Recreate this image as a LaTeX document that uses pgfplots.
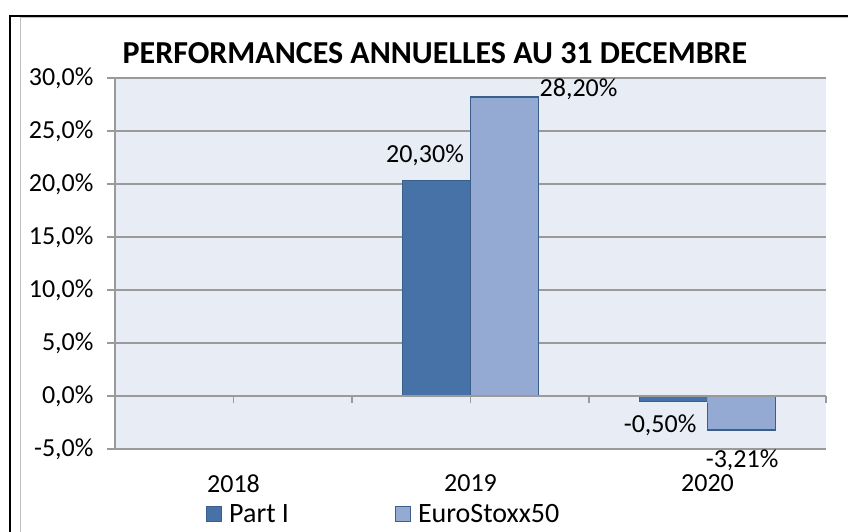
\documentclass[border=0pt]{standalone}
\usepackage{pgfplots}
\pgfplotsset{compat=1.18}
\usepackage{fontspec}
\setmainfont{Carlito}
\definecolor{partI}{HTML}{4672A8}
\definecolor{euro}{HTML}{95AAD3}
\definecolor{edge}{HTML}{3B5F8C}
\definecolor{plotbg}{HTML}{E8ECF4}
\definecolor{gridc}{HTML}{9A9A9A}
\newcommand{\fs}{\fontsize{26}{30}\selectfont}
\begin{document}
\begin{tikzpicture}
\useasboundingbox (0pt,0pt) rectangle (848pt,532pt);
\draw[gray!50, line width=1pt] (20pt,0pt) -- (20pt,514pt) -- (848pt,514pt);
\draw[black, line width=1.5pt] (10pt,0pt) -- (10pt,516pt) -- (848pt,516pt);
\begin{axis}[
  at={(115pt,83pt)}, anchor=south west, scale only axis,
  width=711pt, height=371pt,
  xmin=-0.5, xmax=2.5, ymin=-5, ymax=30,
  clip=false,
  axis background/.style={fill=plotbg},
  ybar=0pt, bar width=0.287,
  axis x line*=bottom, axis y line*=left,
  x axis line style={draw=none},
  y axis line style={gridc, line width=1.5pt},
  xtick={0,1,2}, xticklabels={2018,2019,2020},
  major x tick style={draw=none},
  xticklabel style={font=\fs, yshift=-14pt},
  ytick={-5,0,5,10,15,20,25,30},
  yticklabels={{-5,0\%},{0,0\%},{5,0\%},{10,0\%},{15,0\%},{20,0\%},{25,0\%},{30,0\%}},
  yticklabel style={font=\fs, xshift=-10pt},
  ytick style={gridc, line width=1.5pt},
  tick align=outside, major tick length=8pt,
  ymajorgrids, grid style={gridc, line width=1.5pt},
  title={\bfseries PERFORMANCES ANNUELLES AU 31 DECEMBRE},
  title style={font=\fontsize{32}{36}\selectfont, at={(0.45,1)}, anchor=base, yshift=8pt},
  legend style={at={(0.378,-0.175)}, anchor=center, draw=none, fill=none,
    font=\fontsize{28}{32}\selectfont, legend columns=2,
    /tikz/every odd column/.append style={column sep=5pt},
    /tikz/every even column/.append style={column sep=104pt}},
  legend image code/.code={\draw[#1, draw=edge, line width=1pt] (0pt,-7.5pt) rectangle (15pt,7.5pt);},
]
\addplot[fill=partI, draw=edge, line width=1.2pt] coordinates {(0,0) (1,20.30) (2,-0.50)};
\addplot[fill=euro, draw=edge, line width=1.2pt] coordinates {(0,0) (1,28.20) (2,-3.21)};
\legend{Part I, EuroStoxx50}
\node[font=\fs] at (axis cs:0.808,22.7) {20,30\%};
\node[font=\fs] at (axis cs:1.456,28.9) {28,20\%};
\node[font=\fs] at (axis cs:1.80,-2.74) {-0,50\%};
\node[font=\fs] at (axis cs:2.146,-6.04) {-3,21\%};
\end{axis}
\begin{axis}[
  at={(115pt,83pt)}, anchor=south west, scale only axis,
  width=711pt, height=371pt,
  xmin=-0.5, xmax=2.5, ymin=-5, ymax=30,
  axis x line*=middle, axis y line=none,
  xtick={-0.5,0,0.5,1,1.5,2,2.5}, xticklabels={},
  x axis line style={gridc, line width=1.5pt},
  xtick style={gridc, line width=1.5pt},
  tick align=outside, major tick length=7pt,
]
\end{axis}
\end{tikzpicture}
\end{document}
